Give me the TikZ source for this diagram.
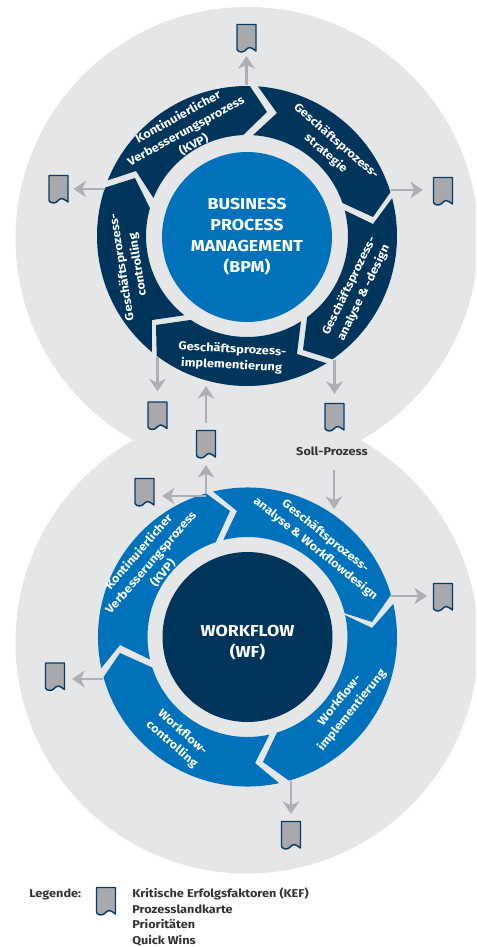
\documentclass[tikz,border=0pt]{standalone}
\usepackage{fontspec}
\setmainfont{Fira Sans}[FakeStretch=1.12]
\usetikzlibrary{arrows.meta,calc}
\definecolor{navy}{HTML}{00355B}
\definecolor{azure}{HTML}{0072BC}
\definecolor{bggray}{HTML}{E5E6E8}
\definecolor{arrgray}{HTML}{AEAFB2}
\definecolor{docgray}{HTML}{A7A9AC}
\definecolor{docline}{HTML}{0A3B63}
\definecolor{legendtxt}{HTML}{333333}
\tikzset{
  bgdisc/.style={fill=bggray,draw=none},
  ringnavy/.style={fill=navy,draw=none},
  ringazure/.style={fill=azure,draw=none},
  arr/.style={draw=arrgray,line width=2.2pt,-{Stealth[length=9.5pt,width=12.5pt,inset=3pt]}},
  gap/.style={shorten >=#1*0.75pt},
  startgap/.style={shorten <=#1*0.75pt},
  docbox/.style={inner sep=0pt,outer sep=0pt,minimum width=15pt,minimum height=21pt,draw=none},
  docshape/.style={fill=docgray,draw=docline,line width=1.1pt,line join=round},
  seglabel/.style={text=white,font=\bfseries\fontsize{8.6}{12}\selectfont,align=center,inner sep=0pt},
  hublabel/.style={text=white,font=\bfseries\fontsize{11.9}{15.75}\selectfont,align=center,inner sep=0pt},
  hubdisc/.style={circle,minimum size=127.5pt,inner sep=0pt},
  legendlabel/.style={text=legendtxt,font=\bfseries\fontsize{8.5}{11.8}\selectfont,inner sep=0pt},
}
% style, center, outer start, outer end, inner end, inner start, tip, notch
\newcommand{\segpath}[8]{%
  \fill[#1] ($(#2)+(#3:\ringR)$) arc[start angle=#3,end angle=#4,radius=\ringR]
    -- (#7) -- ($(#2)+(#5:\ringr)$) arc[start angle=#5,end angle=#6,radius=\ringr]
    -- (#8) -- cycle;}
\newcommand{\docicon}[3]{%
  \node[docbox] (#1) at (#2,#3) {};
  \draw[docshape,shift={(#1.center)}] (-9.5,13.5) -- (9.5,13.5) -- (9.5,-13)
    .. controls (7,-12) and (6,-9.5) .. (3.5,-9.5)
    .. controls (0,-9.5) and (-1,-14) .. (-5,-14)
    .. controls (-7,-14) and (-9,-13) .. (-9.5,-11.5) -- cycle;}
\begin{document}
\begin{tikzpicture}[x=0.75pt,y=0.75pt]
\clip (0,0) rectangle (476,-947);
\fill[white] (0,0) rectangle (476,-947);
\fill[bgdisc] (247,-238.5) circle (231.5);
\fill[bgdisc] (247,-642) circle (231.5);
\coordinate (ct) at (247,-236);
\coordinate (cb) at (247.5,-637);

% top ring
\def\ringR{150}\def\ringr{101}
\segpath{ringnavy}{ct}{158.2}{88.9}{92.2}{157.9}{267,-112}{136,-171}
\segpath{ringnavy}{ct}{85.8}{17}{19.1}{86.6}{373,-217}{277,-113}
\segpath{ringnavy}{ct}{14.6}{-55.3}{-53.4}{14.7}{303,-350}{373,-224}
\segpath{ringnavy}{ct}{-58}{-127}{-123.8}{-57.7}{156,-325}{297,-354}
\segpath{ringnavy}{ct}{230.6}{161.2}{164}{231.7}{135,-178}{152,-320}
% bottom ring
\def\ringR{149.5}\def\ringr{100}
\segpath{ringazure}{cb}{192}{106.1}{108.5}{193}{230,-511}{120,-645}
\segpath{ringazure}{cb}{103.3}{16.4}{13.8}{104}{372,-622}{237,-511}
\segpath{ringazure}{cb}{12.8}{-73.9}{-72.9}{12.6}{263,-762}{372,-628}
\segpath{ringazure}{cb}{282.2}{195.6}{197.8}{282.7}{120,-653}{255,-763}

% hubs
\node[hubdisc,fill=azure,hublabel] (bpm) at (247,-237) {BUSINESS\\PROCESS\\MANAGEMENT\\(BPM)};
\node[hubdisc,fill=navy] (wfdisc) at (247.5,-637) {};
\node[hublabel] (wf) at (247.5,-642.5) {WORKFLOW\\(WF)};

% segment labels
\node[seglabel,rotate=29] (t1) at (186,-131) {Kontinuierlicher\\Verbesserungsprozess\\(KVP)};
\node[seglabel,rotate=-41] (t2) at (331,-147.5) {Geschäftsprozess-\\strategie};
\node[seglabel,rotate=64] (t3) at (356.5,-289.5) {Geschäftsprozess-\\analyse \& -design};
\node[seglabel,rotate=-3] (t4) at (232,-357.5) {Geschäftsprozess-\\implementierung};
\node[seglabel,rotate=99] (t5) at (130,-266) {Geschäftsprozess-\\controlling};
\node[seglabel,rotate=49] (b1) at (151,-562.5) {Kontinuierlicher\\Verbesserungsprozess\\(KVP)};
\node[seglabel,rotate=-39] (b2) at (320.5,-542.5) {Geschäftsprozess-\\analyse \& Workflowdesign};
\node[seglabel,rotate=51] (b3) at (346,-705.5) {Workflow-\\implementierung};
\node[seglabel,rotate=-41] (b4) at (177,-738.5) {Workflow-\\controlling};

% documents
\docicon{d1}{246.5}{-38}
\docicon{d2}{58.5}{-189}
\docicon{d3}{443}{-191}
\docicon{d4}{157.5}{-415.5}
\docicon{d5}{334.5}{-417}
\docicon{d6}{206}{-444}
\docicon{d7}{144.5}{-492}
\docicon{d8}{443}{-597}
\docicon{d9}{55}{-676.5}
\docicon{d10}{291}{-835}
\docicon{d11}{106}{-901}

% connector origins
\coordinate (a1) at (246.5,-85);
\coordinate (a2) at (105,-189);
\coordinate (a3) at (391,-190);
\coordinate (a4) at (157.5,-357);
\coordinate (a5) at (334.5,-360);
\coordinate (a6) at (206,-386);
\coordinate (a7) at (206,-493);
\coordinate (a7b) at (206,-496);
\coordinate (a8) at (390,-596);
\coordinate (a9) at (103,-679);
\coordinate (a10) at (291,-781);
\coordinate (a11) at (334,-509);

\draw[arr,gap=4] (a1) -- (a1 |- d1.south);
\draw[arr,gap=5] (a2) -- (a2 -| d2.east);
\draw[arr,gap=10] (a3) -- (a3 -| d3.west);
\draw[arr,gap=10] (a4) -- (a4 |- d4.north);
\draw[arr,gap=9] (a5) -- (a5 |- d5.north);
\draw[arr,startgap=7] (d6.north) -- (a6);
\draw[arr,gap=7] (a7) -- (a7 |- d6.south);
\draw[arr,gap=7.5] (a7b) -- (a7b -| d7.east);
\draw[arr,gap=6] (a8) -- (a8 -| d8.west);
\draw[arr,gap=7] (a9) -- (a9 -| d9.east);
\draw[arr,gap=7] (a10) -- (a10 |- d10.north);

\node[legendlabel] (soll) at (332,-451) {Soll-Prozess};
\draw[arr,startgap=14] (a11 |- soll.south) -- (a11);

% legend
\node[legendlabel,anchor=west] (leg) at (29,-894) {Legende:};
\node[legendlabel,anchor=north west,align=left] (items) at (132,-887.5) {Kritische Erfolgsfaktoren (KEF)\\Prozesslandkarte\\Prioritäten\\Quick Wins};
\end{tikzpicture}
\end{document}
